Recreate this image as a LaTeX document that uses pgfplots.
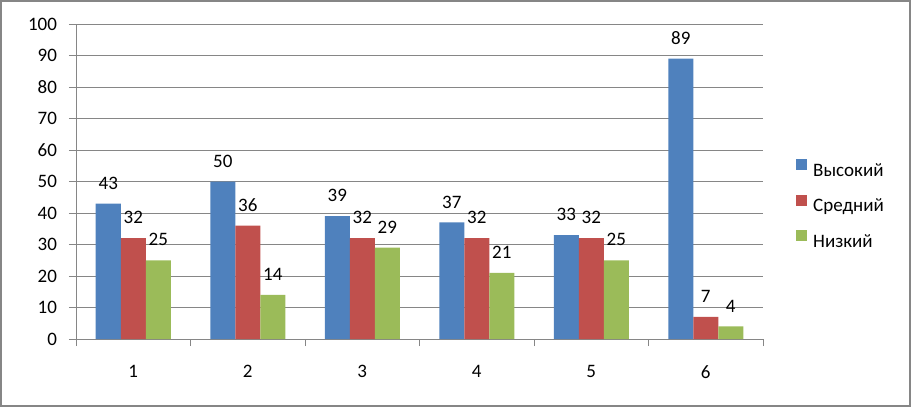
\documentclass[border=0pt]{standalone}
\usepackage{fontspec}
\setmainfont{Carlito}
\usepackage{pgfplots}
\pgfplotsset{compat=1.18}
\definecolor{cblue}{HTML}{4F81BD}
\definecolor{cred}{HTML}{C0504D}
\definecolor{cgreen}{HTML}{9BBB59}
\definecolor{cgrid}{HTML}{868686}
\begin{document}
\begin{tikzpicture}[x=1pt,y=1pt]
\useasboundingbox (0,0) rectangle (912,407);
\draw[cgrid, line width=1.3pt] (1,1) rectangle (910,406);
\begin{axis}[
  at={(76pt,68pt)}, anchor=south west,
  scale only axis, width=687pt, height=315pt,
  ymin=0, ymax=100, ytick={0,10,...,100},
  xmin=0.5, xmax=6.5,
  xtick={0.5,1.5,2.5,3.5,4.5,5.5,6.5},
  xticklabels={1,2,3,4,5,6},
  x tick label as interval,
  axis x line*=bottom, axis y line*=left,
  axis line style={draw=cgrid, line width=0.8pt, -},
  tick style={draw=cgrid, line width=0.8pt},
  tick align=outside, major tick length=7pt,
  ymajorgrids, grid style={draw=cgrid, line width=0.8pt},
  /pgf/number format/assume math mode=true,
  tick label style={font=\fontsize{19}{22}\selectfont, text=black},
  yticklabel style={xshift=-8.5pt},
  xticklabel style={yshift=-16pt},
  ybar=0pt, bar width=25pt,
  clip=false,
  nodes near coords,
  every node near coord/.append style={font=\fontsize{19}{22}\selectfont, text=black, anchor=south, inner sep=0pt, yshift=14pt},
  legend image code/.code={\fill (0pt,1.5pt) rectangle (11pt,12.5pt);},
  legend cell align=left,
  legend style={draw=none, fill=none, at={(1.048,0.425)}, anchor=west, inner sep=0pt,
    font=\fontsize{19}{22}\selectfont, row sep=14.6pt,
    nodes={inner sep=0pt, text height=13pt, text depth=4pt},
    /tikz/every odd column/.append style={column sep=6pt}},
]
\addplot[draw=none, fill=cblue] coordinates {(1,43) (2,50) (3,39) (4,37) (5,33) (6,89)};
\addplot[draw=none, fill=cred] coordinates {(1,32) (2,36) (3,32) (4,32) (5,32) (6,7)};
\addplot[draw=none, fill=cgreen] coordinates {(1,25) (2,14) (3,29) (4,21) (5,25) (6,4)};
\legend{Высокий, Средний, Низкий}
\end{axis}
\end{tikzpicture}
\end{document}
